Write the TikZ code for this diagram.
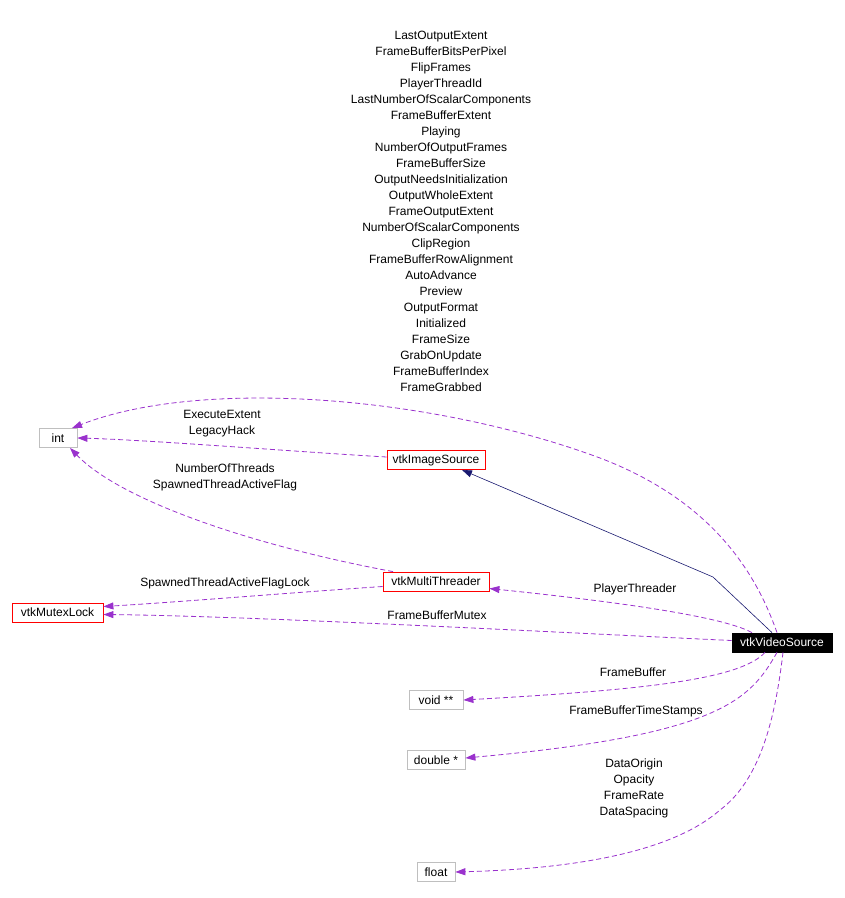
\documentclass[tikz,border=0pt]{standalone}
\usepackage{fontspec}
\setmainfont{Liberation Sans}
\usetikzlibrary{arrows.meta}

\begin{document}
\begin{tikzpicture}[x=1pt, y=-1pt, line width=0.8pt,
    every node/.style={font=\fontsize{12}{16}\selectfont},
    cls/.style={draw, rectangle, inner sep=0pt, minimum height=19pt},
    plain/.style={cls, draw=black!25},
    undoc/.style={cls, draw=red},
    main/.style={cls, fill=black, text=white},
    lbl/.style={align=center, inner sep=0pt},
    use/.style={draw={rgb,255:red,154;green,50;blue,205}, dash pattern=on 5pt off 3pt,
      -{Triangle[length=10pt,width=7pt]}},
    isa/.style={draw={rgb,255:red,25;green,25;blue,112}, line width=0.6pt,
      -{Triangle[length=10pt,width=7pt]}}]
    \useasboundingbox (0,0) rectangle (845,898);
    \node[plain, minimum width=38pt] (int) at (58,438) {int};
    \node[undoc, minimum width=98pt] (imgsrc) at (436,460) {vtkImageSource};
    \node[undoc, minimum width=106pt] (mthr) at (436,581.5) {vtkMultiThreader};
    \node[undoc, minimum width=91pt] (mutex) at (57.5,612.5) {vtkMutexLock};
    \node[main, minimum width=100pt] (vsrc) at (782,642.5) {vtkVideoSource};
    \node[plain, minimum width=54pt] (voidpp) at (436,700) {void **};
    \node[plain, minimum width=58pt] (dblp) at (436,760) {double *};
    \node[plain, minimum width=38pt] (flt) at (436,872) {float};

    \draw[use] ([xshift=-5pt]vsrc.north) .. controls (755,570) and (710,500) .. (600,458)
        .. controls (430,395) and (200,378) .. ([xshift=14pt]int.north);
    \node[lbl] (lblint) at (441,211) {LastOutputExtent\\FrameBufferBitsPerPixel\\FlipFrames\\PlayerThreadId\\LastNumberOfScalarComponents\\FrameBufferExtent\\Playing\\NumberOfOutputFrames\\FrameBufferSize\\OutputNeedsInitialization\\OutputWholeExtent\\FrameOutputExtent\\NumberOfScalarComponents\\ClipRegion\\FrameBufferRowAlignment\\AutoAdvance\\Preview\\OutputFormat\\Initialized\\FrameSize\\GrabOnUpdate\\FrameBufferIndex\\FrameGrabbed};

    \draw[use] ([yshift=3pt]imgsrc.west) .. controls (300,452) and (150,440) .. (int.east);
    \node[lbl] (lblimg) at (222,424) {ExecuteExtent\\LegacyHack};

    \draw[use] ([xshift=-43pt]mthr.north) .. controls (250,545) and (120,500) .. ([xshift=12pt]int.south);
    \node[lbl] (lblthr) at (225,477) {NumberOfThreads\\SpawnedThreadActiveFlag};

    \draw[use] ([yshift=-5pt]mthr.west) .. controls (300,592) and (180,602) .. ([yshift=6pt]mutex.east);
    \node[lbl] (lbllock) at (225,583) {SpawnedThreadActiveFlagLock};

    \draw[use] ([yshift=2pt]vsrc.west) .. controls (550,632) and (250,616) .. ([yshift=-2pt]mutex.east);
    \node[lbl] (lblmutex) at (437,615) {FrameBufferMutex};

    \draw[use] ([xshift=-30pt]vsrc.north) .. controls (720,615) and (600,600) .. ([yshift=-7pt]mthr.east);
    \node[lbl] (lblplay) at (635,589) {PlayerThreader};

    \draw[isa] ([xshift=-10pt]vsrc.north) -- (713,577) -- ([xshift=26pt]imgsrc.south);

    \draw[use] ([xshift=-17pt]vsrc.south) .. controls (740,680) and (640,690) .. (voidpp.east);
    \node[lbl] (lblbuf) at (633,672) {FrameBuffer};

    \draw[use] ([xshift=-5pt]vsrc.south) .. controls (750,700) and (720,735) .. ([yshift=2pt]dblp.east);
    \node[lbl] (lblstamp) at (636,711) {FrameBufferTimeStamps};

    \draw[use] ([xshift=1pt]vsrc.south) .. controls (775,720) and (760,780) .. (720,810)
        .. controls (680,845) and (600,868) .. (flt.east);
    \node[lbl] (lblflt) at (634,788) {DataOrigin\\Opacity\\FrameRate\\DataSpacing};
\end{tikzpicture}
\end{document}
